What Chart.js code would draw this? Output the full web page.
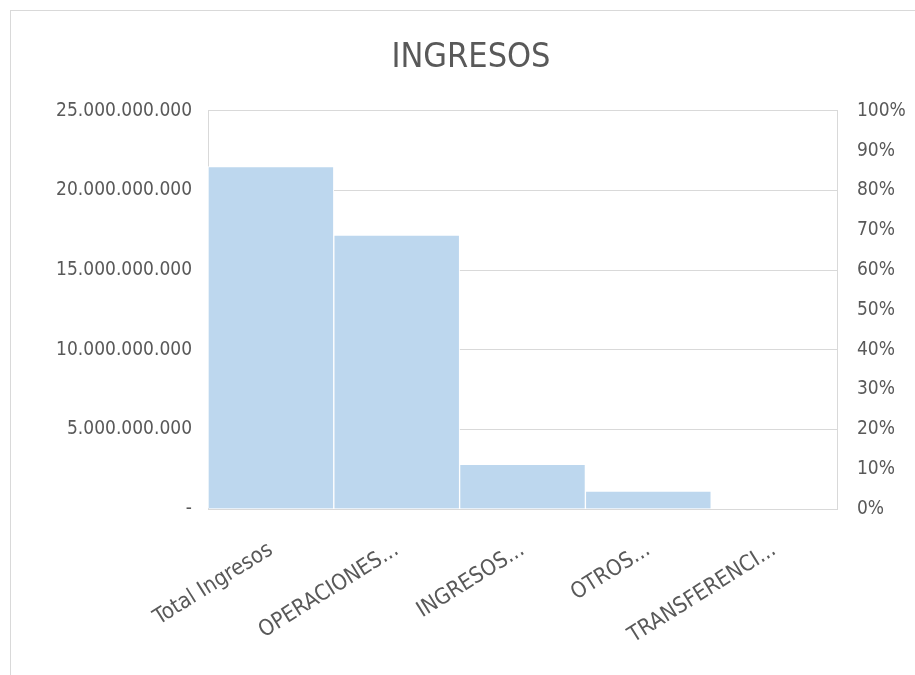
<!DOCTYPE html>
<html>
<head>
<meta charset="utf-8">
<script src="https://cdn.jsdelivr.net/npm/chart.js@4.4.0/dist/chart.umd.min.js"></script>
<style>
    body { margin: 0; background: #fff; overflow: hidden; }
    .frame {
        position: absolute; left: 10px; top: 10px;
        width: 925px; height: 680px;
        border: 1px solid #d9d9d9; box-sizing: border-box;
    }
    .frame canvas { position: absolute; left: 0; top: 0; }
</style>
</head>
<body>
<div class="frame"><canvas id="ingresosChart" width="920" height="665"></canvas></div>
<script>
// datos del grafico
const categorias = ['Total Ingresos', 'OPERACIONES...', 'INGRESOS...', 'OTROS...', 'TRANSFERENCI...'];
const valores = [21500000000, 17200000000, 2810000000, 1130000000, 0];
const ticksIzq = [0, 5000000000, 10000000000, 15000000000, 20000000000, 25000000000];
const ticksDer = [0, 10, 20, 30, 40, 50, 60, 70, 80, 90, 100];

const fontFam = "'DejaVu Sans Condensed', 'Liberation Sans', sans-serif";
const gris = '#595959';

function formatMiles(v) {
    if (v === 0) return '-';
    return Math.round(v).toString().replace(/\B(?=(\d{3})+(?!\d))/g, '.');
}

document.addEventListener('DOMContentLoaded', function() {
    const ctx = document.getElementById('ingresosChart');
    new Chart(ctx, {
        type: 'bar',
        data: {
            labels: categorias,
            datasets: [{
                data: valores,
                backgroundColor: '#BDD7EE',
                borderColor: '#ffffff',
                borderWidth: 1,
                categoryPercentage: 1,
                barPercentage: 1,
                yAxisID: 'y'
            }]
        },
        options: {
            responsive: false,
            animation: false,
            layout: { padding: 0 },
            plugins: {
                legend: { display: false },
                tooltip: { enabled: false },
                title: {
                    display: true,
                    text: 'INGRESOS',
                    color: gris,
                    font: { family: fontFam, size: 34, weight: 'normal' },
                    padding: { top: 27, bottom: 32 }
                }
            },
            scales: {
                x: {
                    grid: { display: false },
                    border: { color: '#d9d9d9' },
                    ticks: {
                        color: gris,
                        padding: 20,
                        font: { family: fontFam, size: 22 },
                        minRotation: 32,
                        maxRotation: 32,
                        autoSkip: false
                    },
                    afterFit: function(scale) { scale.height = 167; }
                },
                y: {
                    position: 'left',
                    min: 0,
                    max: 25000000000,
                    grid: { color: '#d9d9d9', drawTicks: false },
                    border: { color: '#d9d9d9' },
                    afterBuildTicks: function(scale) {
                        scale.ticks = ticksIzq.map(v => ({ value: v }));
                    },
                    ticks: {
                        color: gris,
                        padding: 16,
                        font: { family: fontFam, size: 19 },
                        callback: v => formatMiles(v)
                    },
                    afterFit: function(scale) { scale.width = 197; }
                },
                y2: {
                    position: 'right',
                    min: 0,
                    max: 100,
                    grid: { display: false, drawTicks: false },
                    border: { color: '#d9d9d9' },
                    afterBuildTicks: function(scale) {
                        scale.ticks = ticksDer.map(v => ({ value: v }));
                    },
                    ticks: {
                        color: gris,
                        padding: 20,
                        font: { family: fontFam, size: 19 },
                        callback: v => v + '%'
                    },
                    afterFit: function(scale) { scale.width = 94; }
                }
            }
        }
    });
});
</script>
</body>
</html>
